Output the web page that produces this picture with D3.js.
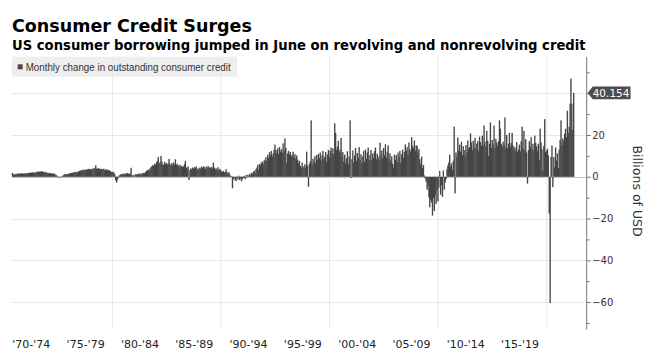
<!DOCTYPE html>
<html><head><meta charset="utf-8">
<script src="https://cdn.jsdelivr.net/npm/d3@7"></script>
<style>body{margin:0;background:#fff}svg{display:block}</style>
</head><body>
<svg id="c" width="668" height="355"></svg>
<script>
const title = "Consumer Credit Surges";
const subtitle = "US consumer borrowing jumped in June on revolving and nonrevolving credit";
const legendLabel = "Monthly change in outstanding consumer credit";
const unitLabel = "Billions of USD";

// first month of the series: October 1970 (year, zero-based month)
const seriesStart = [1970, 9];

// monthly change, billions of USD
const credit1970s = [
  1.8,1.0,1.1,
  1.2,1.4,1.3,1.6,1.5,1.4,1.6,1.5,1.7,1.4,1.6,1.5,
  1.6,1.8,1.7,1.9,1.8,2.0,1.9,2.1,2.0,1.8,2.2,2.0,
  2.3,2.6,2.2,2.5,2.4,2.7,2.3,2.5,2.2,2.0,2.3,1.9,
  1.8,1.6,1.9,1.7,1.5,1.6,1.4,1.6,1.2,0.8,0.6,-0.3,
  -0.4,-0.2,0.1,-0.3,0.3,0.6,1.0,1.2,1.3,1.1,1.4,1.2,
  1.6,1.8,1.7,2.0,1.9,2.1,2.2,2.4,2.0,2.2,2.6,2.8,
  2.9,3.2,3.0,3.4,3.3,3.5,3.1,3.6,3.4,3.8,3.5,3.7,
  3.6,3.9,3.4,4.2,3.8,5.5,4.0,3.7,4.1,3.9,3.6,3.8,
  3.7,3.5,3.9,3.2,3.4,3.6,3.0,3.3,3.1,2.7,2.4,2.2
];
const credit1980s = [
  2.4,2.1,1.2,-1.8,-2.8,-1.5,-0.4,0.6,1.0,1.3,1.1,1.5,
  1.4,1.2,1.6,1.5,1.8,1.3,1.6,1.4,4.3,0.8,0.5,0.9,
  0.1,1.2,0.9,1.3,1.1,1.6,1.0,1.4,1.8,1.2,1.9,1.7,
  2.2,2.8,3.1,3.4,3.0,4.0,4.6,5.0,5.6,5.2,6.2,5.8,
  6.8,7.6,9.5,6.2,7.0,10.0,7.4,6.0,5.6,7.2,6.0,6.6,
  5.8,6.4,8.5,6.0,5.6,6.6,5.4,6.8,5.8,8.4,5.6,6.2,
  5.4,5.0,5.8,4.8,5.2,4.6,5.0,6.0,7.6,4.4,4.0,5.0,
  -1.6,3.2,4.0,3.6,4.4,3.8,4.6,4.2,5.0,3.4,4.0,3.6,
  4.4,3.8,4.8,4.2,5.0,4.6,3.6,4.8,4.0,5.2,4.4,4.6,
  4.2,4.8,3.9,6.8,4.4,3.6,4.0,3.4,4.6,3.0,3.8,3.2
];
const credit1990s = [
  2.6,2.2,2.8,2.0,2.4,3.6,2.1,1.6,2.2,1.2,0.4,0.2,
  -5.5,-1.2,-0.4,-1.8,-2.0,-0.6,-1.4,0.5,-1.6,-0.8,-2.2,-1.0,
  -0.6,0.4,-1.2,0.8,-0.3,1.0,0.2,1.4,0.6,1.9,1.2,2.4,
  2.8,1.6,3.6,4.4,5.8,3.2,6.2,5.4,6.8,7.2,6.0,7.8,
  8.2,9.4,7.6,10.6,9.0,11.8,10.2,12.4,9.6,11.2,13.0,15.4,
  12.8,11.4,13.6,10.8,14.2,12.0,13.2,11.6,16.0,12.6,18.4,13.8,
  6.5,11.2,12.4,10.6,11.8,9.8,10.4,12.0,9.4,10.8,8.6,10.2,
  8.2,6.4,7.6,5.2,4.4,6.8,5.0,3.8,6.0,4.6,12.0,5.4,
  -4.8,6.2,7.4,27.0,5.8,8.6,7.2,9.8,6.4,10.4,8.2,11.0,
  9.0,11.6,7.8,10.2,12.4,8.4,9.6,11.8,7.2,10.6,12.8,9.4
];
const credit2000s = [
  12.4,14.0,11.2,13.6,10.8,25.6,21.0,12.8,14.4,17.2,11.6,13.0,
  18.6,9.4,11.8,7.2,10.6,6.4,8.8,12.2,6.0,9.6,27.0,-0.6,
  8.4,12.6,6.8,10.2,13.8,7.6,11.4,9.0,14.2,8.2,10.8,6.6,
  9.8,12.4,7.2,13.0,8.6,11.6,14.0,7.8,10.4,12.8,8.0,11.2,
  9.0,12.2,14.0,8.4,11.0,9.6,7.8,16.3,10.2,12.6,8.8,13.8,
  10.4,15.6,9.2,12.0,15.0,8.4,11.2,7.6,9.8,6.2,4.4,10.6,
  8.2,10.4,7.0,11.6,9.4,12.4,6.6,10.8,13.0,9.2,11.8,15.5,
  12.6,14.2,10.8,16.4,13.2,12.0,19.0,14.8,13.6,17.4,12.4,15.0,
  14.8,11.6,13.2,8.4,6.0,9.6,4.2,5.6,0.6,-0.8,-2.4,-6.2,
  -4.4,-9.8,-14.6,-11.0,-12.4,-18.6,-10.2,-16.4,-8.8,-13.0,-6.4,-11.8
];
const credit2010s = [
  -5.2,2.8,-8.6,-4.0,-9.6,3.0,-6.2,-2.8,-1.2,3.6,5.4,6.8,
  10.6,4.8,6.4,3.2,7.6,24.0,-8.0,11.6,9.4,18.8,12.6,15.4,
  12.0,16.8,10.4,14.6,12.8,9.6,15.2,11.8,17.4,13.6,14.2,20.8,
  16.4,12.6,17.2,14.0,18.6,13.4,15.8,17.0,12.2,19.2,16.6,14.8,
  19.7,15.2,24.5,16.8,14.6,22.0,17.2,10.0,15.8,26.0,13.8,17.6,
  15.4,24.5,13.6,18.2,16.4,14.8,17.0,27.0,23.0,15.6,14.2,16.8,
  15.2,28.4,14.0,20.0,13.6,15.8,21.0,14.4,16.2,21.0,15.0,13.2,
  14.2,12.4,16.6,11.8,13.0,15.4,12.2,17.0,24.0,13.6,22.0,12.8,
  18.0,11.6,-3.3,12.8,17.0,14.4,19.0,13.2,15.8,12.6,19.7,16.2,
  14.6,12.2,15.8,7.8,23.0,16.4,13.2,3.0,14.8,27.6,11.8,12.4
];
const credit2020s = [
  13.4,10.2,-17.6,-60.5,9.5,15.0,-5.0,9.4,4.6,14.0,7.8,11.2,
  4.2,13.0,17.6,27.0,15.2,18.4,17.2,20.6,23.0,19.0,31.6,21.0,
  24.0,35.0,47.0,35.0,22.4,40.154
];

const periodLabels = ["'70-'74","'75-'79","'80-'84","'85-'89","'90-'94","'95-'99","'00-'04","'05-'09","'10-'14","'15-'19"];
const periodStartYears = [1970,1975,1980,1985,1990,1995,2000,2005,2010,2015];
const yTicks = [-60,-40,-20,0,20,40];
const yMinorTicks = [-70,-50,-30,-10,10,30,50];
const gridYears = [1980,1990,2000,2010,2020];

const values = [].concat(credit1970s, credit1980s, credit1990s, credit2000s, credit2010s, credit2020s);
const data = values.map((v, i) => ({date: new Date(seriesStart[0], seriesStart[1] + i, 1), v}));
const last = data[data.length - 1];

const svg = d3.select("#c");
const FONT = "DejaVu Sans, Verdana, sans-serif";
const plotL = 12, axisX = 586.7, plotT = 57, plotB = 329.5;

const x = d3.scaleTime().domain([new Date(1970,0,1), new Date(2022,6,1)]).range([3.7, 573.9]);
const y = d3.scaleLinear().domain([-73, 57.2]).range([329.2, 57.3]);

svg.append("rect").attr("width",668).attr("height",355).attr("fill","#fff");

function fit(sel, target) {
  const len = sel.node().getComputedTextLength();
  const fs = parseFloat(sel.attr("font-size"));
  sel.attr("font-size", (fs * target / len).toFixed(2));
}

// titles
fit(svg.append("text").attr("x",12).attr("y",32.3).attr("font-family",FONT).attr("font-weight","bold")
  .attr("font-size",17.5).attr("fill","#000").text(title), 240);
fit(svg.append("text").attr("x",12).attr("y",49.5).attr("font-family",FONT).attr("font-weight","bold")
  .attr("font-size",13.5).attr("fill","#000").text(subtitle), 574);

// legend background
svg.append("rect").attr("x",11.7).attr("y",56.7).attr("width",225.3).attr("height",20).attr("fill","#eeeeee");

// grid
const g = svg.append("g");
g.selectAll("line.hg").data(yTicks).join("line")
  .attr("x1",plotL).attr("x2",axisX).attr("y1",d=>Math.round(y(d))+0.5).attr("y2",d=>Math.round(y(d))+0.5)
  .attr("stroke", d => d === 0 ? "#c4c4c4" : "#e8e8e8").attr("stroke-width",1);
g.selectAll("line.vg").data(gridYears).join("line")
  .attr("x1",d=>x(new Date(d,0,1))).attr("x2",d=>x(new Date(d,0,1)))
  .attr("y1",plotT).attr("y2",plotB).attr("stroke","#e8e8e8").attr("stroke-width",1);

// legend content
svg.append("rect").attr("x",17.7).attr("y",64.3).attr("width",5).attr("height",5).attr("fill","#4a4a4a");
svg.append("text").attr("x",25.7).attr("y",70.6).attr("font-family","Liberation Sans Narrow, Liberation Sans, Arial, sans-serif")
  .attr("font-size",10).attr("fill","#333").attr("textLength",205).attr("lengthAdjust","spacingAndGlyphs").text(legendLabel);

// bars
svg.append("g").selectAll("rect").data(data).join("rect")
  .attr("x", d => x(d.date))
  .attr("width", d => x(d3.timeMonth.offset(d.date,1)) - x(d.date) + 0.45)
  .attr("y", d => y(Math.max(0, d.v)))
  .attr("height", d => Math.abs(y(d.v) - y(0)))
  .attr("fill", "#454545");

// right axis
const ax = svg.append("g").attr("transform",`translate(${axisX},0)`)
  .call(d3.axisRight(y).tickValues(yTicks).tickSize(4).tickSizeOuter(0).tickPadding(1.5)
    .tickFormat(d => d === 40 ? "" : d3.format("d")(d)));
ax.select(".domain").remove();
ax.selectAll("line").attr("stroke","#777");
ax.selectAll("text").attr("font-family",FONT).attr("font-size",10).attr("fill","#333");
const axm = svg.append("g").attr("transform",`translate(${axisX},0)`)
  .call(d3.axisRight(y).tickValues(yMinorTicks).tickSize(3).tickSizeOuter(0).tickFormat(""));
axm.select(".domain").remove();
axm.selectAll("line").attr("stroke","#777");
svg.append("line").attr("x1",axisX).attr("x2",axisX).attr("y1",plotT).attr("y2",plotB).attr("stroke","#777").attr("stroke-width",1);

// last value tag
const ly = y(last.v);
svg.append("path")
  .attr("d", `M${axisX+1},${ly} L${axisX+6},${ly-6.4} L630.5,${ly-6.4} L630.5,${ly+6.4} L${axisX+6},${ly+6.4} Z`)
  .attr("fill","#4d4d4d");
svg.append("text").attr("x",axisX+6).attr("y",ly).attr("dy","0.35em").attr("font-family",FONT).attr("font-size",10.5)
  .attr("fill","#fff").text(d3.format(".3f")(last.v));

// unit label
svg.append("text").attr("transform","translate(637,191) rotate(90)").attr("text-anchor","middle")
  .attr("dy","0.35em").attr("font-family",FONT).attr("font-size",12.5).attr("fill","#333").text(unitLabel);

// bottom period labels
const xa = svg.append("g").attr("transform",`translate(0,${340})`)
  .call(d3.axisBottom(x)
    .tickValues(periodStartYears.map(yv => new Date(yv + 2, 6, 1)))
    .tickSize(0).tickPadding(0)
    .tickFormat((d,i) => periodLabels[i]));
xa.select(".domain").remove();
xa.selectAll("text").attr("font-family",FONT).attr("font-size",11).attr("fill","#222");
</script>
</body></html>
